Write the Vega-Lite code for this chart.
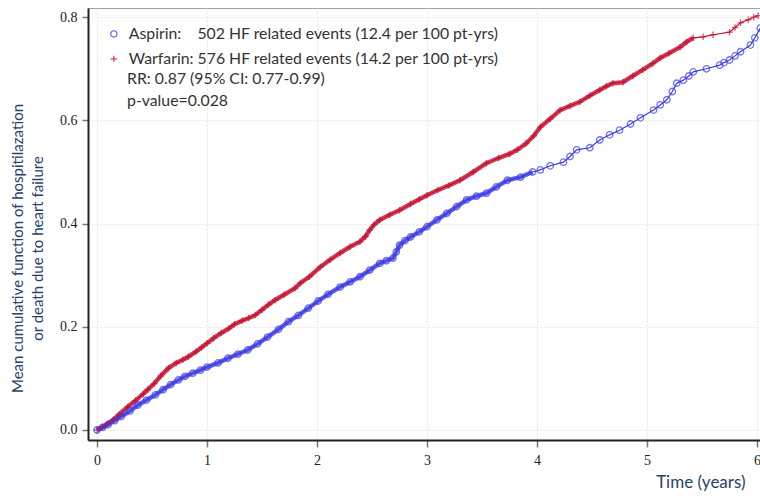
{
  "$schema": "https://vega.github.io/schema/vega-lite/v6.json",
  "width": 672,
  "height": 432,
  "autosize": {"type": "none"},
  "padding": {"left": 88, "top": 8, "right": 0, "bottom": 58},
  "background": "white",
  "config": {
    "view": {"stroke": "#a0a0a0", "strokeWidth": 1},
    "font": "Lato"
  },
  "data": {"values": [
      {"group": "Warfarin", "t": 0.0, "v": 0.0},
      {"group": "Warfarin", "t": 0.05, "v": 0.006},
      {"group": "Warfarin", "t": 0.1, "v": 0.013},
      {"group": "Warfarin", "t": 0.15, "v": 0.02},
      {"group": "Warfarin", "t": 0.2, "v": 0.03},
      {"group": "Warfarin", "t": 0.28, "v": 0.045},
      {"group": "Warfarin", "t": 0.35, "v": 0.057},
      {"group": "Warfarin", "t": 0.42, "v": 0.07},
      {"group": "Warfarin", "t": 0.46, "v": 0.078},
      {"group": "Warfarin", "t": 0.52, "v": 0.09},
      {"group": "Warfarin", "t": 0.58, "v": 0.105},
      {"group": "Warfarin", "t": 0.65, "v": 0.12},
      {"group": "Warfarin", "t": 0.72, "v": 0.13},
      {"group": "Warfarin", "t": 0.78, "v": 0.136},
      {"group": "Warfarin", "t": 0.83, "v": 0.142},
      {"group": "Warfarin", "t": 0.9, "v": 0.152},
      {"group": "Warfarin", "t": 0.95, "v": 0.16},
      {"group": "Warfarin", "t": 1.0, "v": 0.168},
      {"group": "Warfarin", "t": 1.06, "v": 0.178},
      {"group": "Warfarin", "t": 1.13, "v": 0.188},
      {"group": "Warfarin", "t": 1.2, "v": 0.197},
      {"group": "Warfarin", "t": 1.25, "v": 0.205},
      {"group": "Warfarin", "t": 1.32, "v": 0.212},
      {"group": "Warfarin", "t": 1.38, "v": 0.217},
      {"group": "Warfarin", "t": 1.44, "v": 0.223},
      {"group": "Warfarin", "t": 1.5, "v": 0.233},
      {"group": "Warfarin", "t": 1.56, "v": 0.243},
      {"group": "Warfarin", "t": 1.62, "v": 0.252},
      {"group": "Warfarin", "t": 1.7, "v": 0.262},
      {"group": "Warfarin", "t": 1.8, "v": 0.275},
      {"group": "Warfarin", "t": 1.85, "v": 0.285},
      {"group": "Warfarin", "t": 1.93, "v": 0.297},
      {"group": "Warfarin", "t": 2.03, "v": 0.316},
      {"group": "Warfarin", "t": 2.12, "v": 0.33},
      {"group": "Warfarin", "t": 2.21, "v": 0.343},
      {"group": "Warfarin", "t": 2.3, "v": 0.355},
      {"group": "Warfarin", "t": 2.39, "v": 0.365},
      {"group": "Warfarin", "t": 2.44, "v": 0.375},
      {"group": "Warfarin", "t": 2.48, "v": 0.388},
      {"group": "Warfarin", "t": 2.52, "v": 0.398},
      {"group": "Warfarin", "t": 2.57, "v": 0.407},
      {"group": "Warfarin", "t": 2.66, "v": 0.417},
      {"group": "Warfarin", "t": 2.75, "v": 0.426},
      {"group": "Warfarin", "t": 2.85, "v": 0.438},
      {"group": "Warfarin", "t": 2.93, "v": 0.447},
      {"group": "Warfarin", "t": 3.0, "v": 0.455},
      {"group": "Warfarin", "t": 3.1, "v": 0.465},
      {"group": "Warfarin", "t": 3.2, "v": 0.474},
      {"group": "Warfarin", "t": 3.3, "v": 0.484},
      {"group": "Warfarin", "t": 3.42, "v": 0.5},
      {"group": "Warfarin", "t": 3.54, "v": 0.517},
      {"group": "Warfarin", "t": 3.65, "v": 0.527},
      {"group": "Warfarin", "t": 3.75, "v": 0.535},
      {"group": "Warfarin", "t": 3.82, "v": 0.543},
      {"group": "Warfarin", "t": 3.9, "v": 0.555},
      {"group": "Warfarin", "t": 3.97, "v": 0.57},
      {"group": "Warfarin", "t": 4.03, "v": 0.587},
      {"group": "Warfarin", "t": 4.12, "v": 0.603},
      {"group": "Warfarin", "t": 4.21, "v": 0.62},
      {"group": "Warfarin", "t": 4.3, "v": 0.628},
      {"group": "Warfarin", "t": 4.39, "v": 0.636},
      {"group": "Warfarin", "t": 4.48, "v": 0.648},
      {"group": "Warfarin", "t": 4.57, "v": 0.659},
      {"group": "Warfarin", "t": 4.63, "v": 0.666},
      {"group": "Warfarin", "t": 4.69, "v": 0.672},
      {"group": "Warfarin", "t": 4.78, "v": 0.674},
      {"group": "Warfarin", "t": 4.87, "v": 0.686},
      {"group": "Warfarin", "t": 4.96, "v": 0.698},
      {"group": "Warfarin", "t": 5.05, "v": 0.71},
      {"group": "Warfarin", "t": 5.12, "v": 0.721},
      {"group": "Warfarin", "t": 5.2, "v": 0.73},
      {"group": "Warfarin", "t": 5.3, "v": 0.742},
      {"group": "Warfarin", "t": 5.36, "v": 0.752},
      {"group": "Warfarin", "t": 5.42, "v": 0.76},
      {"group": "Warfarin", "t": 5.51, "v": 0.762},
      {"group": "Warfarin", "t": 5.6, "v": 0.766},
      {"group": "Warfarin", "t": 5.75, "v": 0.771},
      {"group": "Warfarin", "t": 5.8, "v": 0.78},
      {"group": "Warfarin", "t": 5.85, "v": 0.789},
      {"group": "Warfarin", "t": 5.92, "v": 0.795},
      {"group": "Warfarin", "t": 5.97, "v": 0.8},
      {"group": "Warfarin", "t": 6.01, "v": 0.803},
      {"group": "Aspirin", "t": 0.0, "v": 0.0},
      {"group": "Aspirin", "t": 0.05, "v": 0.005},
      {"group": "Aspirin", "t": 0.1, "v": 0.01},
      {"group": "Aspirin", "t": 0.16, "v": 0.018},
      {"group": "Aspirin", "t": 0.22, "v": 0.026},
      {"group": "Aspirin", "t": 0.3, "v": 0.037},
      {"group": "Aspirin", "t": 0.37, "v": 0.048},
      {"group": "Aspirin", "t": 0.45, "v": 0.058},
      {"group": "Aspirin", "t": 0.53, "v": 0.068},
      {"group": "Aspirin", "t": 0.6, "v": 0.078},
      {"group": "Aspirin", "t": 0.67, "v": 0.088},
      {"group": "Aspirin", "t": 0.74, "v": 0.097},
      {"group": "Aspirin", "t": 0.8, "v": 0.104},
      {"group": "Aspirin", "t": 0.87, "v": 0.11},
      {"group": "Aspirin", "t": 0.94, "v": 0.116},
      {"group": "Aspirin", "t": 1.0, "v": 0.122},
      {"group": "Aspirin", "t": 1.1, "v": 0.13},
      {"group": "Aspirin", "t": 1.19, "v": 0.139},
      {"group": "Aspirin", "t": 1.28, "v": 0.147},
      {"group": "Aspirin", "t": 1.37, "v": 0.155},
      {"group": "Aspirin", "t": 1.46, "v": 0.167},
      {"group": "Aspirin", "t": 1.55, "v": 0.18},
      {"group": "Aspirin", "t": 1.65, "v": 0.195},
      {"group": "Aspirin", "t": 1.74, "v": 0.21},
      {"group": "Aspirin", "t": 1.83, "v": 0.222},
      {"group": "Aspirin", "t": 1.92, "v": 0.236},
      {"group": "Aspirin", "t": 2.01, "v": 0.25},
      {"group": "Aspirin", "t": 2.1, "v": 0.263},
      {"group": "Aspirin", "t": 2.21, "v": 0.277},
      {"group": "Aspirin", "t": 2.3, "v": 0.287},
      {"group": "Aspirin", "t": 2.39, "v": 0.297},
      {"group": "Aspirin", "t": 2.48, "v": 0.31},
      {"group": "Aspirin", "t": 2.57, "v": 0.323},
      {"group": "Aspirin", "t": 2.63, "v": 0.328},
      {"group": "Aspirin", "t": 2.69, "v": 0.333},
      {"group": "Aspirin", "t": 2.72, "v": 0.345},
      {"group": "Aspirin", "t": 2.75, "v": 0.358},
      {"group": "Aspirin", "t": 2.8, "v": 0.367},
      {"group": "Aspirin", "t": 2.85, "v": 0.374},
      {"group": "Aspirin", "t": 2.93, "v": 0.384},
      {"group": "Aspirin", "t": 3.0, "v": 0.394},
      {"group": "Aspirin", "t": 3.09, "v": 0.407},
      {"group": "Aspirin", "t": 3.18, "v": 0.42},
      {"group": "Aspirin", "t": 3.27, "v": 0.433},
      {"group": "Aspirin", "t": 3.36, "v": 0.446},
      {"group": "Aspirin", "t": 3.45, "v": 0.453},
      {"group": "Aspirin", "t": 3.54, "v": 0.459},
      {"group": "Aspirin", "t": 3.63, "v": 0.471},
      {"group": "Aspirin", "t": 3.73, "v": 0.484},
      {"group": "Aspirin", "t": 3.85, "v": 0.49},
      {"group": "Aspirin", "t": 3.96, "v": 0.5},
      {"group": "Aspirin", "t": 4.03, "v": 0.504},
      {"group": "Aspirin", "t": 4.12, "v": 0.512},
      {"group": "Aspirin", "t": 4.24, "v": 0.519},
      {"group": "Aspirin", "t": 4.3, "v": 0.53},
      {"group": "Aspirin", "t": 4.36, "v": 0.543},
      {"group": "Aspirin", "t": 4.48, "v": 0.547},
      {"group": "Aspirin", "t": 4.57, "v": 0.562},
      {"group": "Aspirin", "t": 4.66, "v": 0.572},
      {"group": "Aspirin", "t": 4.75, "v": 0.581},
      {"group": "Aspirin", "t": 4.85, "v": 0.593},
      {"group": "Aspirin", "t": 4.94, "v": 0.605},
      {"group": "Aspirin", "t": 5.06, "v": 0.62},
      {"group": "Aspirin", "t": 5.12, "v": 0.63},
      {"group": "Aspirin", "t": 5.18, "v": 0.64},
      {"group": "Aspirin", "t": 5.23, "v": 0.656},
      {"group": "Aspirin", "t": 5.27, "v": 0.672},
      {"group": "Aspirin", "t": 5.33, "v": 0.678},
      {"group": "Aspirin", "t": 5.38, "v": 0.686},
      {"group": "Aspirin", "t": 5.42, "v": 0.694},
      {"group": "Aspirin", "t": 5.54, "v": 0.7},
      {"group": "Aspirin", "t": 5.66, "v": 0.707},
      {"group": "Aspirin", "t": 5.7, "v": 0.712},
      {"group": "Aspirin", "t": 5.75, "v": 0.717},
      {"group": "Aspirin", "t": 5.8, "v": 0.725},
      {"group": "Aspirin", "t": 5.85, "v": 0.733},
      {"group": "Aspirin", "t": 5.94, "v": 0.746},
      {"group": "Aspirin", "t": 5.98, "v": 0.76},
      {"group": "Aspirin", "t": 6.03, "v": 0.779}
  ]},
  "encoding": {
    "x": {
      "field": "t",
      "type": "quantitative",
      "scale": {"domain": [-0.082, 6.027], "nice": false, "zero": false},
      "axis": {
        "values": [0, 1, 2, 3, 4, 5, 6],
        "format": "d",
        "title": "Time (years)",
        "titleFont": "Lato",
        "titleFontSize": 17,
        "titleFontWeight": "normal",
        "titleColor": "#27426e",
        "titleAnchor": "end",
        "titleAlign": "right",
        "titleBaseline": "top",
        "titleX": 657,
        "titleY": 34,
        "labelFont": "Liberation Serif",
        "labelFontSize": 14,
        "labelColor": "#222",
        "labelPadding": 6,
        "tickSize": 7,
        "tickColor": "#777",
        "tickWidth": 1.5,
        "domainColor": "#222",
        "domainWidth": 2,
        "grid": true,
        "gridColor": "#e4e4e4",
        "gridDash": [2, 2],
        "labelFlush": false,
        "labelOverlap": false
      }
    },
    "y": {
      "field": "v",
      "type": "quantitative",
      "scale": {"domain": [-0.0194, 0.8178], "nice": false, "zero": false},
      "axis": {
        "values": [0, 0.2, 0.4, 0.6, 0.8],
        "format": ".1f",
        "title": ["Mean cumulative function of hospitilazation", "or death due to heart failure"],
        "titleFont": "Lato",
        "titleFontSize": 15,
        "titleFontWeight": "normal",
        "titleColor": "#27426e",
        "titleLineHeight": 20,
        "titleAnchor": "middle",
        "titleY": 240,
        "titleX": -63,
        "labelFont": "Liberation Serif",
        "labelFontSize": 14,
        "labelColor": "#222",
        "labelPadding": 5,
        "tickSize": 6,
        "tickColor": "#777",
        "tickWidth": 1.5,
        "domainColor": "#222",
        "domainWidth": 2,
        "grid": true,
        "gridColor": "#e4e4e4",
        "gridDash": [2, 2],
        "labelFlush": false,
        "labelOverlap": false
      }
    }
  },
  "layer": [
    {
      "transform": [{"filter": "datum.t <= 4.0 || (datum.group == 'Warfarin' && datum.t <= 5.42)"}],
      "mark": {"type": "line", "strokeWidth": 4.5, "opacity": 0.8, "clip": true},
      "encoding": {
        "color": {
          "field": "group",
          "type": "nominal",
          "scale": {"domain": ["Aspirin", "Warfarin"], "range": ["#3a3ae6", "#c41230"]},
          "legend": {
            "title": null,
            "orient": "top-left",
            "labelFont": "Lato",
            "labelFontSize": 15.8,
            "labelColor": "#333",
            "labelLimit": 600,
            "labelOffset": 7,
            "rowPadding": 8,
            "symbolSize": 40,
            "symbolStrokeWidth": 1.2,
            "labelExpr": "datum.label == 'Aspirin' ? 'Aspirin:\u00a0\u00a0\u00a0 502 HF related events (12.4 per 100 pt-yrs)' : 'Warfarin: 576 HF related events (14.2 per 100 pt-yrs)'"
          }
        }
      }
    },
    {
      "mark": {"type": "line", "strokeWidth": 1.2, "clip": true},
      "encoding": {
        "color": {
          "field": "group",
          "type": "nominal",
          "scale": {"domain": ["Aspirin", "Warfarin"], "range": ["#3a3ae6", "#c41230"]},
          "legend": {
            "title": null,
            "orient": "top-left",
            "labelFont": "Lato",
            "labelFontSize": 15.8,
            "labelColor": "#333",
            "labelLimit": 600,
            "labelOffset": 7,
            "rowPadding": 8,
            "symbolSize": 40,
            "symbolStrokeWidth": 1.2,
            "labelExpr": "datum.label == 'Aspirin' ? 'Aspirin:\u00a0\u00a0\u00a0 502 HF related events (12.4 per 100 pt-yrs)' : 'Warfarin: 576 HF related events (14.2 per 100 pt-yrs)'"
          }
        }
      }
    },
    {
      "mark": {"type": "point", "filled": false, "strokeWidth": 1.3, "size": 42, "clip": true},
      "encoding": {
        "color": {
          "field": "group",
          "type": "nominal",
          "scale": {"domain": ["Aspirin", "Warfarin"], "range": ["#3a3ae6", "#c41230"]},
          "legend": {
            "title": null,
            "orient": "top-left",
            "labelFont": "Lato",
            "labelFontSize": 15.8,
            "labelColor": "#333",
            "labelLimit": 600,
            "labelOffset": 7,
            "rowPadding": 8,
            "symbolSize": 40,
            "symbolStrokeWidth": 1.2,
            "labelExpr": "datum.label == 'Aspirin' ? 'Aspirin:\u00a0\u00a0\u00a0 502 HF related events (12.4 per 100 pt-yrs)' : 'Warfarin: 576 HF related events (14.2 per 100 pt-yrs)'"
          }
        },
        "shape": {
          "field": "group",
          "type": "nominal",
          "scale": {"domain": ["Aspirin", "Warfarin"], "range": ["circle", "M-1,0L1,0M0,-1L0,1"]},
          "legend": {
            "title": null,
            "orient": "top-left",
            "labelFont": "Lato",
            "labelFontSize": 15.8,
            "labelColor": "#333",
            "labelLimit": 600,
            "labelOffset": 7,
            "rowPadding": 8,
            "symbolSize": 40,
            "symbolStrokeWidth": 1.2,
            "labelExpr": "datum.label == 'Aspirin' ? 'Aspirin:\u00a0\u00a0\u00a0 502 HF related events (12.4 per 100 pt-yrs)' : 'Warfarin: 576 HF related events (14.2 per 100 pt-yrs)'"
          }
        }
      }
    },
    {
      "transform": [{"filter": "datum.t == 0 && datum.group == 'Aspirin'"}],
      "mark": {
        "type": "text",
        "align": "left",
        "baseline": "alphabetic",
        "font": "Lato",
        "fontSize": 15.8,
        "color": "#333",
        "lineBreak": "\n",
        "lineHeight": 22
      },
      "encoding": {
        "x": {"datum": 0.273},
        "y": {"datum": 0.6705},
        "text": {"value": "RR: 0.87 (95% CI: 0.77-0.99)\np-value=0.028"}
      }
    }
  ]
}
